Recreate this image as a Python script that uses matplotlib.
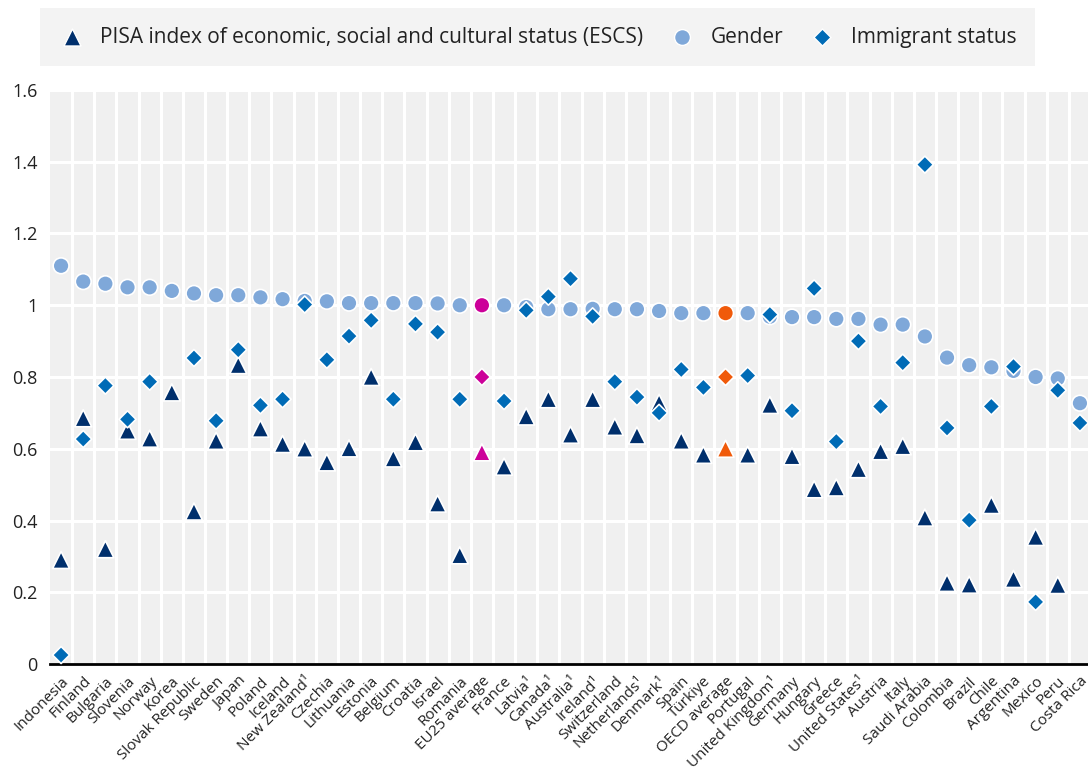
import matplotlib
matplotlib.use("Agg")
import matplotlib.pyplot as plt
import numpy as np
from matplotlib.ticker import FixedLocator, FuncFormatter

nan = np.nan

# ----------------------------- data ------------------------------------

countries = [
    "Indonesia", "Finland", "Bulgaria", "Slovenia", "Norway", "Korea",
    "Slovak Republic", "Sweden", "Japan", "Poland", "Iceland",
    "New Zealand¹", "Czechia", "Lithuania", "Estonia", "Belgium", "Croatia",
    "Israel", "Romania", "EU25 average", "France", "Latvia¹", "Canada¹",
    "Australia¹", "Ireland¹", "Switzerland", "Netherlands¹", "Denmark¹",
    "Spain", "Türkiye", "OECD average", "Portugal", "United Kingdom¹",
    "Germany", "Hungary", "Greece", "United States¹", "Austria", "Italy",
    "Saudi Arabia", "Colombia", "Brazil", "Chile", "Argentina", "Mexico",
    "Peru", "Costa Rica",
]

escs = [
    0.290, 0.685, 0.320, 0.650, 0.628, 0.757, 0.425, 0.622, 0.833, 0.656,
    0.613, 0.600, 0.562, 0.601, 0.800, 0.573, 0.618, 0.447, 0.303, 0.590,
    0.550, 0.690, 0.738, 0.639, 0.738, 0.661, 0.637, 0.728, 0.622, 0.583,
    0.600, 0.583, 0.722, 0.579, 0.487, 0.492, 0.543, 0.593, 0.607, 0.408,
    0.226, 0.221, 0.443, 0.237, 0.354, 0.220, nan,
]

gender = [
    1.110, 1.066, 1.060, 1.050, 1.050, 1.040, 1.033, 1.028, 1.028, 1.022,
    1.017, 1.012, 1.011, 1.006, 1.006, 1.006, 1.006, 1.005, 1.000, 1.000,
    1.000, 0.995, 0.989, 0.989, 0.990, 0.989, 0.989, 0.984, 0.978, 0.978,
    0.978, 0.978, 0.968, 0.967, 0.967, 0.962, 0.962, 0.946, 0.946, 0.913,
    0.854, 0.833, 0.827, 0.817, 0.800, 0.796, 0.727,
]

immigrant = [
    0.025, 0.627, 0.776, 0.682, 0.787, nan, 0.853, 0.678, 0.876, 0.721,
    0.738, 1.002, 0.848, 0.914, 0.958, 0.738, 0.948, 0.925, 0.738, 0.800,
    0.733, 0.986, 1.024, 1.074, 0.969, 0.787, 0.744, 0.700, 0.821, 0.771,
    0.800, 0.804, 0.974, 0.706, 1.047, 0.620, 0.900, 0.718, 0.840, 1.392,
    0.658, 0.401, 0.718, 0.829, 0.173, 0.763, 0.672,
]

# ----------------------------- styling ---------------------------------

C_ESCS = "#002F6C"
C_GENDER = "#7FA8D9"
C_IMMIG = "#006BB6"
HIGHLIGHT = {"EU25 average": "#CC0099", "OECD average": "#F05A0A"}
PANEL = "#F0F0F0"

plt.rcParams.update({
    "font.family": ["Open Sans", "DejaVu Sans"],
    "font.size": 10,
    "text.color": "#222222",
})

W, H = 1088, 767


def main() -> None:
    fig = plt.figure(figsize=(W / 100, H / 100), dpi=100)
    left, right, top, bottom = 50, 1091, 90, 664
    ax = fig.add_axes([left / W, 1 - bottom / H, (right - left) / W,
                       (bottom - top) / H])
    ax.set_facecolor(PANEL)

    x = np.arange(len(countries))
    cols = [HIGHLIGHT.get(c) for c in countries]

    def colours(base):
        return [c if c is not None else base for c in cols]

    common = dict(edgecolors="white", linewidths=1.2, clip_on=False)
    ax.scatter(x, escs, marker="^", s=150, c=colours(C_ESCS), zorder=3,
               **common)
    ax.scatter(x, gender, marker="o", s=130, c=colours(C_GENDER), zorder=4,
               **common)
    ax.scatter(x, immigrant, marker="D", s=75, c=colours(C_IMMIG), zorder=5,
               **common)

    # legend handles
    h1 = ax.scatter([], [], marker="^", s=150, c=C_ESCS, edgecolors="white")
    h2 = ax.scatter([], [], marker="o", s=130, c=C_GENDER, edgecolors="white")
    h3 = ax.scatter([], [], marker="D", s=75, c=C_IMMIG, edgecolors="white")
    leg = fig.legend(
        [h1, h2, h3],
        ["PISA index of economic, social and cultural status (ESCS)",
         "Gender", "Immigrant status"],
        loc="upper left", bbox_to_anchor=(40 / W, 1 - 8 / H), ncol=3,
        frameon=True, fancybox=False, fontsize=15, handletextpad=0.7,
        columnspacing=1.23, borderpad=0.89, handlelength=1.3,
        borderaxespad=0,
    )
    leg.get_frame().set_facecolor(PANEL)
    leg.get_frame().set_edgecolor("none")
    for t in leg.get_texts():
        t.set_color("#222222")

    ax.set_xlim(-0.5, len(countries) - 0.5)
    ax.set_ylim(0, 1.6)
    ax.set_yticks(np.arange(0, 1.61, 0.2))
    ax.yaxis.set_major_formatter(FuncFormatter(lambda v, _: f"{v:g}"))
    ax.set_xticks(x)
    ax.set_xticklabels(countries, rotation=45, ha="right",
                       rotation_mode="anchor", fontsize=11)
    ax.xaxis.set_minor_locator(FixedLocator(x[:-1] + 0.5))
    ax.tick_params(axis="both", which="both", length=0, labelcolor="#222222")
    ax.tick_params(axis="x", pad=7)
    ax.tick_params(axis="y", labelsize=13, pad=9)

    ax.grid(True, axis="y", which="major", color="white", lw=2.2)
    ax.grid(True, axis="x", which="minor", color="white", lw=2.2)
    ax.set_axisbelow(True)

    for side in ("top", "right", "left"):
        ax.spines[side].set_visible(False)
    ax.spines["bottom"].set_color("black")
    ax.spines["bottom"].set_linewidth(2)

    fig.savefig("out.png", dpi=100)
    plt.close(fig)


if __name__ == "__main__":
    main()
